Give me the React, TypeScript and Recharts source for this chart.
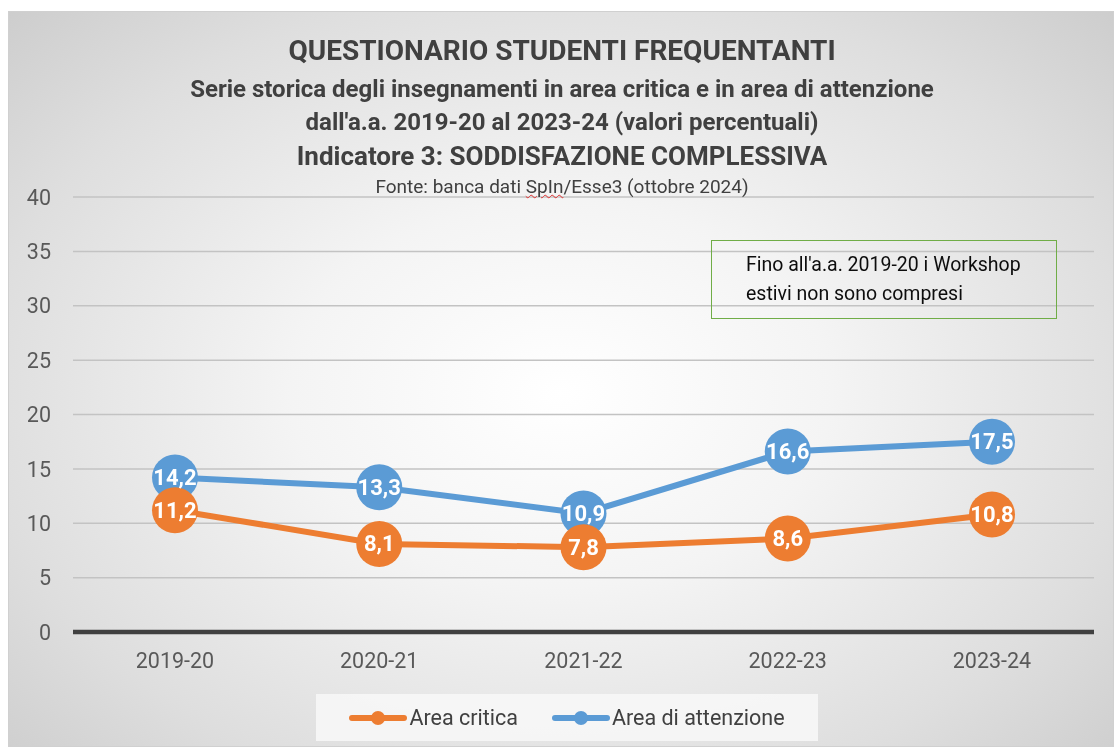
import React from "react";
import { CartesianGrid, LabelList, Line, LineChart, XAxis, YAxis } from "recharts";

const anni = ["2019-20", "2020-21", "2021-22", "2022-23", "2023-24"];
const areaCritica = [11.2, 8.1, 7.8, 8.6, 10.8];
const areaAttenzione = [14.2, 13.3, 10.9, 16.6, 17.5];
const yTicks = [0, 5, 10, 15, 20, 25, 30, 35, 40];

const ARANCIO = "#ED7D31";
const BLU = "#5B9BD5";
const FONT = "Roboto, 'Open Sans', sans-serif";

const data = anni.map((anno, i) => ({
    anno,
    critica: areaCritica[i],
    attenzione: areaAttenzione[i],
}));

const fmt = (v: number) => v.toFixed(1).replace(".", ",");

function EtichettaPunto(props: any) {
    const { x, y, value } = props;
    return (
        <text
            x={x}
            y={y}
            textAnchor="middle"
            dominantBaseline="central"
            fill="#ffffff"
            fontSize={22}
            fontWeight={700}
            fontFamily={FONT}
        >
            {fmt(Number(value))}
        </text>
    );
}

const titoli = [
    { testo: "QUESTIONARIO STUDENTI FREQUENTANTI", y: 39, size: 28 },
    { testo: "Serie storica degli insegnamenti in area critica e in area di attenzione", y: 77, size: 24 },
    { testo: "dall'a.a. 2019-20 al 2023-24 (valori percentuali)", y: 110, size: 24 },
    { testo: "Indicatore 3: SODDISFAZIONE COMPLESSIVA", y: 144, size: 26 },
];

function VoceLegenda({ colore, testo }: { colore: string; testo: string }) {
    return (
        <div style={{ display: "flex", alignItems: "center" }}>
            <svg width={58} height={16}>
                <line x1={3} y1={8} x2={55} y2={8} stroke={colore} strokeWidth={6} strokeLinecap="round" />
                <circle cx={29} cy={8} r={7} fill={colore} />
            </svg>
            <span style={{ marginLeft: 2 }}>{testo}</span>
        </div>
    );
}

export default function App() {
    return (
        <div
            style={{
                position: "fixed",
                left: 8,
                top: 11,
                width: 1106,
                height: 736,
                boxSizing: "border-box",
                border: "1px solid #d0d0d0",
                background: "radial-gradient(ellipse 70% 75% at 50% 52%, #ffffff 0%, #f4f4f4 35%, #dedede 75%, #cdcdcd 100%)",
                fontFamily: FONT,
                overflow: "hidden",
            }}
        >
            <div style={{ position: "absolute", left: -1, top: -1 }}>
                <LineChart
                    width={1106}
                    height={736}
                    data={data}
                    margin={{ top: 186, right: 20, bottom: 85, left: 0 }}
                >
                    <CartesianGrid vertical={false} stroke="#c3c3c3" strokeWidth={1.5} />
                    <XAxis
                        dataKey="anno"
                        padding={{ left: 102, right: 102 }}
                        axisLine={{ stroke: "#404040", strokeWidth: 4.5 }}
                        tickLine={false}
                        tickMargin={15}
                        height={30}
                        tick={{ fontSize: 21.5, fill: "#595959", fontFamily: FONT }}
                    />
                    <YAxis
                        domain={[0, 40]}
                        ticks={yTicks}
                        width={65}
                        axisLine={false}
                        tickLine={false}
                        tickMargin={16}
                        tick={{ fontSize: 21.5, fill: "#595959", fontFamily: FONT }}
                    />
                    <Line
                        dataKey="attenzione"
                        stroke={BLU}
                        strokeWidth={6}
                        dot={{ r: 23, fill: BLU, stroke: "none" }}
                        activeDot={false}
                        isAnimationActive={false}
                    >
                        <LabelList dataKey="attenzione" content={EtichettaPunto} />
                    </Line>
                    <Line
                        dataKey="critica"
                        stroke={ARANCIO}
                        strokeWidth={6}
                        dot={{ r: 23, fill: ARANCIO, stroke: "none" }}
                        activeDot={false}
                        isAnimationActive={false}
                    >
                        <LabelList dataKey="critica" content={EtichettaPunto} />
                    </Line>
                </LineChart>
            </div>

            {titoli.map((t) => (
                <div
                    key={t.testo}
                    style={{
                        position: "absolute",
                        left: 0,
                        width: 1106,
                        top: t.y - 17,
                        lineHeight: "34px",
                        textAlign: "center",
                        fontSize: t.size,
                        fontWeight: 700,
                        color: "#404040",
                    }}
                >
                    {t.testo}
                </div>
            ))}
            <div
                style={{
                    position: "absolute",
                    left: 0,
                    width: 1106,
                    top: 175 - 12,
                    lineHeight: "24px",
                    textAlign: "center",
                    fontSize: 19,
                    color: "#404040",
                }}
            >
                Fonte: banca dati{" "}
                <span style={{ textDecoration: "underline wavy #e03030", textDecorationThickness: 1 }}>SpIn</span>
                /Esse3 (ottobre 2024)
            </div>

            <div
                style={{
                    position: "absolute",
                    left: 702,
                    top: 228,
                    width: 346,
                    height: 79,
                    boxSizing: "border-box",
                    border: "1.5px solid #70AD47",
                    padding: "9px 0 0 34px",
                    fontSize: 19.5,
                    lineHeight: "29px",
                    color: "#0d0d0d",
                }}
            >
                Fino all'a.a. 2019-20 i Workshop
                <br />
                estivi non sono compresi
            </div>

            <div
                style={{
                    position: "absolute",
                    left: 307,
                    top: 682,
                    width: 502,
                    height: 47,
                    background: "rgba(248,248,248,0.85)",
                    display: "flex",
                    alignItems: "center",
                    justifyContent: "center",
                    gap: 34,
                    fontSize: 21.5,
                    color: "#404040",
                }}
            >
                <VoceLegenda colore={ARANCIO} testo="Area critica" />
                <VoceLegenda colore={BLU} testo="Area di attenzione" />
            </div>
        </div>
    );
}
